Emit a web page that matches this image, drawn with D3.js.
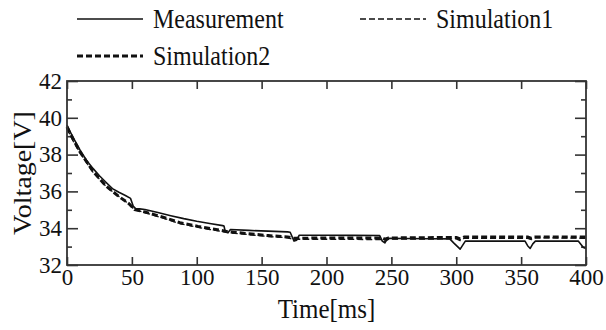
<!DOCTYPE html>
<html>
<head>
<meta charset="utf-8">
<script src="https://cdn.jsdelivr.net/npm/d3@7"></script>
<style>
  body { margin: 0; background: #fff; }
  svg { display: block; font-family: "Liberation Serif", "DejaVu Serif", serif; }
  svg text { font-family: "Liberation Serif", "DejaVu Serif", serif; }
</style>
</head>
<body>
<svg id="chart" width="606" height="330"></svg>
<script>
// values
const measTime = [0, 2, 5, 10, 15, 20, 25, 30, 35, 40, 45, 49, 51, 53, 56, 60, 70, 80, 90, 100, 110, 120, 121, 122, 124, 126, 140, 155, 170, 172, 175, 177, 179, 200, 220, 241, 243, 245, 247, 260, 280, 295, 298, 303, 307, 320, 340, 353, 355, 357, 359, 361, 380, 394, 398, 400];
const measVolt = [39.6, 39.3, 38.9, 38.25, 37.7, 37.25, 36.85, 36.5, 36.15, 35.95, 35.78, 35.62, 35.2, 35.05, 35.05, 35.02, 34.85, 34.68, 34.52, 34.38, 34.26, 34.14, 34.12, 33.8, 33.75, 33.93, 33.88, 33.84, 33.8, 33.78, 33.3, 33.35, 33.62, 33.62, 33.61, 33.6, 33.3, 33.2, 33.45, 33.44, 33.43, 33.42, 33.2, 32.86, 33.3, 33.3, 33.3, 33.3, 33.05, 32.9, 33.15, 33.3, 33.3, 33.3, 32.95, 32.9];

const sim1Time = [0, 5, 10, 20, 30, 40, 48, 52, 60, 74, 87, 101, 110, 121, 125, 140, 155, 170, 175, 178, 200, 243, 245, 248, 300, 303, 306, 355, 358, 361, 400];
const sim1Volt = [39.4, 38.7, 38.1, 37.05, 36.28, 35.72, 35.3, 35.0, 34.85, 34.55, 34.25, 34.05, 33.93, 33.8, 33.75, 33.65, 33.55, 33.48, 33.38, 33.4, 33.4, 33.38, 33.28, 33.4, 33.42, 33.32, 33.45, 33.45, 33.38, 33.48, 33.45];

const sim2Time = [0, 5, 10, 20, 30, 40, 48, 52, 60, 74, 87, 101, 121, 125, 140, 155, 170, 175, 200, 243, 245, 248, 300, 303, 306, 355, 358, 361, 400];
const sim2Volt = [39.5, 38.8, 38.15, 37.1, 36.3, 35.72, 35.32, 35.02, 34.88, 34.6, 34.3, 34.1, 33.85, 33.8, 33.7, 33.6, 33.52, 33.45, 33.47, 33.47, 33.4, 33.47, 33.5, 33.42, 33.52, 33.52, 33.45, 33.52, 33.52];

const xTicks = [0, 50, 100, 150, 200, 250, 300, 350, 400];
const yTicks = [32, 34, 36, 38, 40, 42];
const yMinor = [33, 35, 37, 39, 41];
const seriesNames = ["Measurement", "Simulation1", "Simulation2"];

const plotL = 67, plotR = 586, plotT = 81, plotB = 265;
const ink = "#111";
const stretch = 1.12; // text in the picture is a bit taller than wide

const svg = d3.select("#chart");

const x = d3.scaleLinear().domain([0, 400]).range([plotL, plotR]);
const y = d3.scaleLinear().domain([32, 42]).range([plotB, plotT]);

const styles = [
  { width: 1.6, dash: null },
  { width: 1.3, dash: "6,3" },
  { width: 3, dash: "6,3" }
];

// ticks (inward)
const tickStyle = g => {
  g.attr("font-family", null).attr("font-size", null);
  g.select(".domain").remove();
  g.selectAll(".tick line").attr("stroke", "#333").attr("stroke-width", 1.6);
  g.selectAll(".tick text").attr("fill", ink).style("font-size", "23px");
};

svg.append("g")
  .attr("transform", `translate(0,${plotB})`)
  .call(d3.axisBottom(x).tickValues(xTicks).tickSizeInner(-8).tickSizeOuter(0).tickPadding(4))
  .call(tickStyle);

svg.append("g")
  .attr("transform", `translate(0,${plotT})`)
  .call(d3.axisTop(x).tickValues(xTicks).tickSizeInner(-8).tickSizeOuter(0).tickFormat(""))
  .call(tickStyle);

svg.append("g")
  .attr("transform", `translate(${plotL},0)`)
  .call(d3.axisLeft(y).tickValues(yTicks).tickSizeInner(-11).tickSizeOuter(0).tickPadding(5))
  .call(tickStyle);

svg.append("g")
  .attr("transform", `translate(${plotL},0)`)
  .call(d3.axisLeft(y).tickValues(yMinor).tickSizeInner(-5).tickSizeOuter(0).tickFormat(""))
  .call(tickStyle);

svg.append("g")
  .attr("transform", `translate(${plotR},0)`)
  .call(d3.axisRight(y).tickValues(yTicks).tickSizeInner(-11).tickSizeOuter(0).tickFormat(""))
  .call(tickStyle);

svg.append("g")
  .attr("transform", `translate(${plotR},0)`)
  .call(d3.axisRight(y).tickValues(yMinor).tickSizeInner(-5).tickSizeOuter(0).tickFormat(""))
  .call(tickStyle);

// lines
const line = d3.line().x(d => x(d[0])).y(d => y(d[1]));
const series = [
  d3.zip(measTime, measVolt),
  d3.zip(sim1Time, sim1Volt),
  d3.zip(sim2Time, sim2Volt)
];

const plot = svg.append("g");
[2, 1, 0].forEach(i => {
  plot.append("path")
    .datum(series[i])
    .attr("d", line)
    .attr("fill", "none")
    .attr("stroke", ink)
    .attr("stroke-width", styles[i].width)
    .attr("stroke-dasharray", styles[i].dash)
    .attr("stroke-linejoin", "round");
});

// frame
svg.append("rect")
  .attr("x", plotL).attr("y", plotT)
  .attr("width", plotR - plotL).attr("height", plotB - plotT)
  .attr("fill", "none")
  .attr("stroke", "#333")
  .attr("stroke-width", 1.8);

// axis titles
svg.append("text")
  .attr("transform", `translate(${(plotL + plotR) / 2},318) scale(1,${stretch})`)
  .attr("text-anchor", "middle")
  .attr("fill", ink)
  .style("font-size", "25px")
  .text("Time[ms]");

svg.append("text")
  .attr("transform", `translate(22,${(plotT + plotB) / 2}) rotate(-90) scale(${stretch},1)`)
  .attr("text-anchor", "middle")
  .attr("dy", "0.35em")
  .attr("fill", ink)
  .style("font-size", "25px")
  .text("Voltage[V]");

// legend
const legendPos = [[77, 19], [360, 19], [77, 56]];
seriesNames.forEach((name, i) => {
  const [lx, ly] = legendPos[i];
  const g = svg.append("g").attr("transform", `translate(${lx},${ly})`);
  g.append("line")
    .attr("x1", 0).attr("x2", 66)
    .attr("y1", 0).attr("y2", 0)
    .attr("stroke", ink)
    .attr("stroke-width", styles[i].width)
    .attr("stroke-dasharray", styles[i].dash);
  g.append("text")
    .attr("transform", `translate(76,0) scale(1,${stretch})`)
    .attr("dy", "0.35em")
    .attr("fill", ink)
    .style("font-size", "24px")
    .text(name);
});
</script>
</body>
</html>
